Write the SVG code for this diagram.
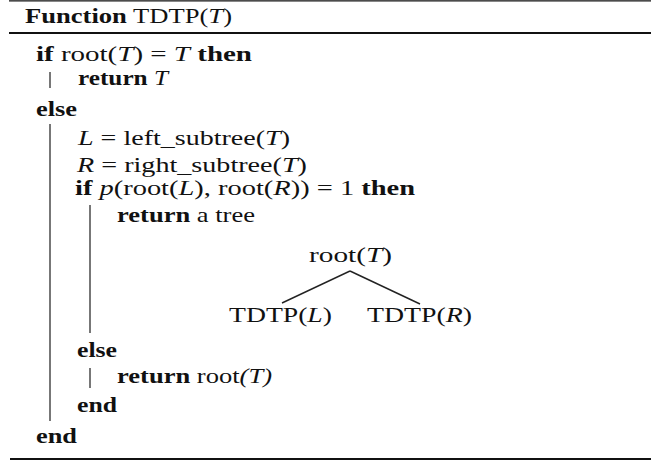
<svg xmlns="http://www.w3.org/2000/svg" width="651" height="462" viewBox="0 0 651 462">
<style>
text{font-family:"Liberation Serif","Times New Roman",serif;font-size:22px;fill:#111}
.b{font-weight:bold}
.i{font-style:italic}
.bar{stroke:#555;stroke-width:1.6;fill:none}
.rule{stroke:#111;fill:none}
.edge{stroke:#222;stroke-width:1.4;fill:none}
</style>
<rect width="651" height="462" fill="#fff"/>
<g id="rules">
<line class="rule" x1="9" y1="0.8" x2="651" y2="0.8" stroke-width="1.2" stroke="#999"/>
<line class="rule" x1="9" y1="33" x2="651" y2="33" stroke-width="2"/>
<line class="rule" x1="10" y1="459" x2="651" y2="459" stroke-width="2.2"/>
</g>
<g id="bars">
<line class="bar" x1="50" y1="72" x2="50" y2="88"/>
<line class="bar" x1="50" y1="124" x2="50" y2="421"/>
<line class="bar" x1="90" y1="205" x2="90" y2="333"/>
<line class="bar" x1="90" y1="368" x2="90" y2="388"/>
</g>
<g id="code">
<text x="25" y="23" textLength="207" lengthAdjust="spacingAndGlyphs"><tspan class="b">Function</tspan> TDTP(<tspan class="i">T</tspan>)</text>
<text x="36" y="61" textLength="216" lengthAdjust="spacingAndGlyphs"><tspan class="b">if</tspan> root(<tspan class="i">T</tspan>) = <tspan class="i">T</tspan> <tspan class="b">then</tspan></text>
<text x="78" y="85" textLength="90" lengthAdjust="spacingAndGlyphs"><tspan class="b">return</tspan> <tspan class="i">T</tspan></text>
<text x="36" y="116" textLength="41" lengthAdjust="spacingAndGlyphs" class="b">else</text>
<text x="78" y="145" textLength="212" lengthAdjust="spacingAndGlyphs"><tspan class="i">L</tspan> = left_subtree(<tspan class="i">T</tspan>)</text>
<text x="77" y="172" textLength="230" lengthAdjust="spacingAndGlyphs"><tspan class="i">R</tspan> = right_subtree(<tspan class="i">T</tspan>)</text>
<text x="75" y="195" textLength="340" lengthAdjust="spacingAndGlyphs"><tspan class="b">if</tspan> <tspan class="i">p</tspan>(root(<tspan class="i">L</tspan>), root(<tspan class="i">R</tspan>)) = 1 <tspan class="b">then</tspan></text>
<text x="117" y="222" textLength="138" lengthAdjust="spacingAndGlyphs"><tspan class="b">return</tspan> a tree</text>
<text x="77" y="357" textLength="40" lengthAdjust="spacingAndGlyphs" class="b">else</text>
<text x="117" y="383" textLength="155" lengthAdjust="spacingAndGlyphs"><tspan class="b">return</tspan> root<tspan class="i">(T)</tspan></text>
<text x="77" y="412" textLength="40" lengthAdjust="spacingAndGlyphs" class="b">end</text>
<text x="36" y="443" textLength="41" lengthAdjust="spacingAndGlyphs" class="b">end</text>
</g>
<g id="connectors">
<line class="edge" x1="350" y1="271" x2="282" y2="303"/>
<line class="edge" x1="350" y1="271" x2="420" y2="304"/>
</g>
<g id="node-root">
<text x="309" y="262" textLength="83" lengthAdjust="spacingAndGlyphs">root(<tspan class="i">T</tspan>)</text>
</g>
<g id="node-left">
<text x="229" y="322" textLength="103" lengthAdjust="spacingAndGlyphs">TDTP(<tspan class="i">L</tspan>)</text>
</g>
<g id="node-right">
<text x="367" y="322" textLength="105" lengthAdjust="spacingAndGlyphs">TDTP(<tspan class="i">R</tspan>)</text>
</g>
</svg>
